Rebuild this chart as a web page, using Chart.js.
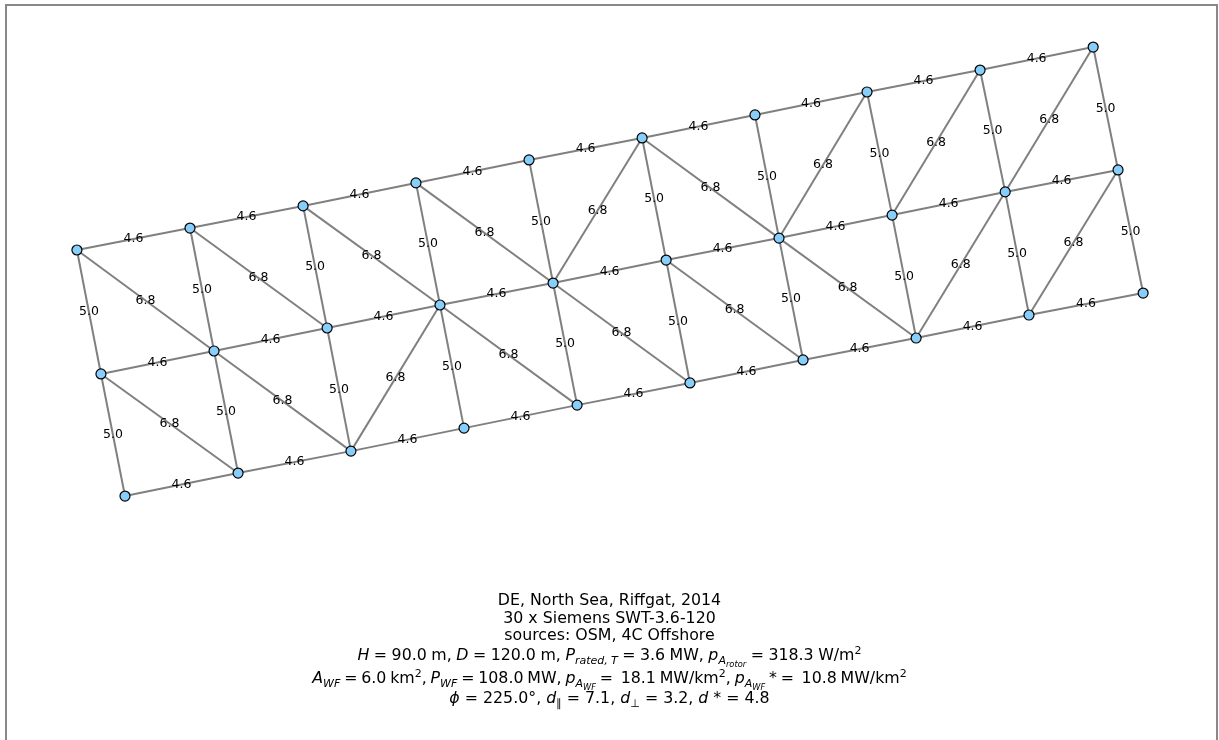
<!DOCTYPE html>
<html>
<head>
<meta charset="utf-8">
<script src="https://cdn.jsdelivr.net/npm/chart.js@4"></script>
<style>
  body { margin: 0; background: #fff; }
  #wrap { position: relative; width: 1219px; height: 740px; }
  #frame { position: absolute; left: 5px; top: 4px; width: 1213px; height: 745px; border: 2px solid #888; box-sizing: border-box; }
  .line { position: absolute; left: 0; width: 1219px; text-align: center; font-family: "DejaVu Sans", sans-serif; font-size: 15.8px; line-height: 18px; color: #000; white-space: pre; }
  sub, sup { font-size: 70%; line-height: 0; }
  sub sub { font-size: 75%; }
</style>
</head>
<body>
<div id="wrap">
  <canvas id="myChart"></canvas>
  <div id="frame"></div>
  <div class="line" style="top:591px">DE, North Sea, Riffgat, 2014</div>
  <div class="line" style="top:609px">30 x Siemens SWT-3.6-120</div>
  <div class="line" style="top:626px">sources: OSM, 4C Offshore</div>
  <div class="line" style="top:646px; word-spacing:-0.5px"><i>H</i> = 90.0 m, <i>D</i> = 120.0 m, <i>P</i><sub><i>rated, T</i></sub> = 3.6 MW, <i>p</i><sub><i>A</i><sub><i>rotor</i></sub></sub> = 318.3 W/m<sup>2</sup></div>
  <div class="line" style="top:669px; word-spacing:-1.2px"><i>A</i><sub><i>WF</i></sub> = 6.0 km<sup>2</sup>, <i>P</i><sub><i>WF</i></sub> = 108.0 MW, <i>p</i><sub><i>A</i><sub><i>WF</i></sub></sub> =  18.1 MW/km<sup>2</sup>, <i>p</i><sub><i>A</i><sub><i>WF</i></sub></sub> * =  10.8 MW/km<sup>2</sup></div>
  <div class="line" style="top:689px"><i>ϕ</i> = 225.0°, <i>d</i><sub>∥</sub> = 7.1, <i>d</i><sub>⊥</sub> = 3.2, <i>d</i> * = 4.8</div>
</div>
<script>
// turbine positions in km (rows A: 0-9, B: 10-19, C: 20-29)
const nodeX = [
  -0.230, 0.311, 0.852, 1.392, 1.933, 2.474, 3.014, 3.550, 4.091, 4.632,
  -0.115, 0.426, 0.967, 1.507, 2.048, 2.589, 3.129, 3.670, 4.211, 4.751,
   0.000, 0.541, 1.081, 1.622, 2.163, 2.703, 3.244, 3.785, 4.325, 4.871
];
const nodeY = [
  1.177, 1.282, 1.388, 1.498, 1.608, 1.713, 1.823, 1.933, 2.038, 2.148,
  0.584, 0.694, 0.804, 0.914, 1.019, 1.129, 1.234, 1.344, 1.455, 1.560,
  0.000, 0.110, 0.215, 0.325, 0.435, 0.541, 0.651, 0.756, 0.866, 0.971
];

// edges between turbines and their distance labels (in rotor diameters)
const edges = [
  [0,1],[1,2],[2,3],[3,4],[4,5],[5,6],[6,7],[7,8],[8,9],
  [10,11],[11,12],[12,13],[13,14],[14,15],[15,16],[16,17],[17,18],[18,19],
  [20,21],[21,22],[22,23],[23,24],[24,25],[25,26],[26,27],[27,28],[28,29],
  [0,10],[1,11],[2,12],[3,13],[4,14],[5,15],[6,16],[7,17],[8,18],[9,19],
  [10,20],[11,21],[12,22],[13,23],[14,24],[15,25],[16,26],[17,27],[18,28],[19,29],
  [0,11],[1,12],[2,13],[3,14],[5,14],[5,16],[7,16],[8,17],[9,18],
  [10,21],[11,22],[13,22],[13,24],[14,25],[15,26],[16,27],[18,27],[19,28]
];
const edgeLabels = [
  '4.6','4.6','4.6','4.6','4.6','4.6','4.6','4.6','4.6',
  '4.6','4.6','4.6','4.6','4.6','4.6','4.6','4.6','4.6',
  '4.6','4.6','4.6','4.6','4.6','4.6','4.6','4.6','4.6',
  '5.0','5.0','5.0','5.0','5.0','5.0','5.0','5.0','5.0','5.0',
  '5.0','5.0','5.0','5.0','5.0','5.0','5.0','5.0','5.0','5.0',
  '6.8','6.8','6.8','6.8','6.8','6.8','6.8','6.8','6.8',
  '6.8','6.8','6.8','6.8','6.8','6.8','6.8','6.8','6.8'
];

const datasets = [];

datasets.push({
  label: 'turbines',
  data: nodeX.map((x, i) => ({x: x, y: nodeY[i]})),
  pointRadius: 5,
  pointBackgroundColor: '#87cefa',
  pointBorderColor: '#000',
  pointBorderWidth: 1.2,
  showLine: false,
  order: 0
});

edges.forEach(function(e) {
  datasets.push({
    data: [{x: nodeX[e[0]], y: nodeY[e[0]]}, {x: nodeX[e[1]], y: nodeY[e[1]]}],
    showLine: true,
    borderColor: '#808080',
    borderWidth: 2,
    pointRadius: 0,
    order: 1
  });
});

// distance labels at edge midpoints
const edgeLabelPlugin = {
  id: 'edgeLabels',
  afterDatasetsDraw(chart) {
    const ctx = chart.ctx;
    const xs = chart.scales.x, ys = chart.scales.y;
    ctx.save();
    ctx.font = '12.5px "DejaVu Sans"';
    ctx.fillStyle = '#000';
    ctx.textAlign = 'center';
    ctx.textBaseline = 'middle';
    edges.forEach(function(e, i) {
      const mx = (nodeX[e[0]] + nodeX[e[1]]) / 2;
      const my = (nodeY[e[0]] + nodeY[e[1]]) / 2;
      ctx.fillText(edgeLabels[i], xs.getPixelForValue(mx), ys.getPixelForValue(my));
    });
    ctx.restore();
  }
};

const ctx = document.getElementById('myChart').getContext('2d');
const myChart = new Chart(ctx, {
  type: 'scatter',
  data: { datasets: datasets },
  options: {
    responsive: true,
    maintainAspectRatio: false,
    animation: false,
    layout: { padding: 0, autoPadding: false },
    plugins: { legend: { display: false }, tooltip: { enabled: false } },
    scales: {
      x: { display: false, min: -0.598, max: 5.234 },
      y: { display: false, min: -1.167, max: 2.373 }
    }
  },
  plugins: [edgeLabelPlugin]
});
</script>
</body>
</html>
